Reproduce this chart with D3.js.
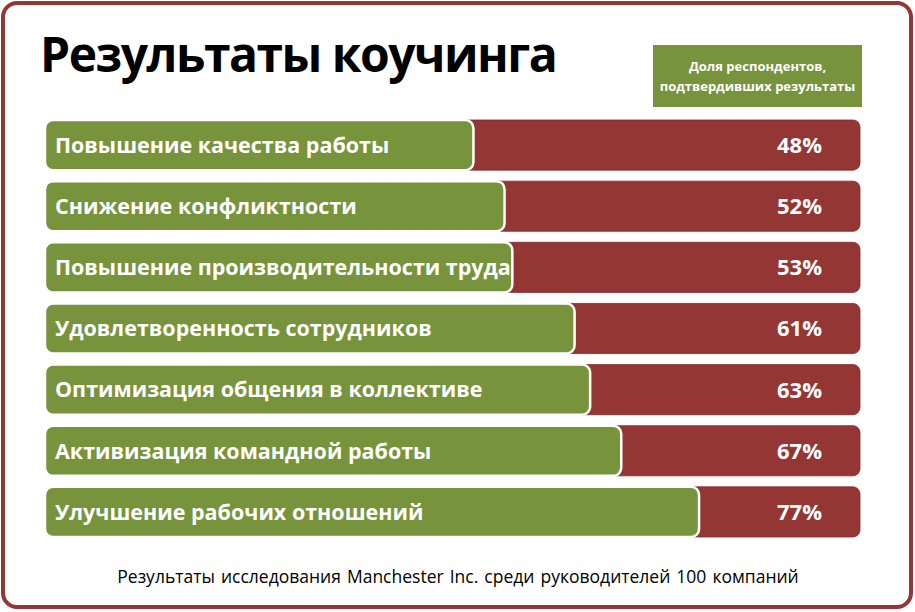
<!DOCTYPE html>
<html>
<head>
<meta charset="utf-8">
<script src="https://cdn.jsdelivr.net/npm/d3@7"></script>
<style>
  body { margin: 0; background: #fff; }
  text { font-family: "Open Sans", "DejaVu Sans", sans-serif; }
</style>
</head>
<body>
<div id="app"></div>
<script>
// data
let categories = [
  'Повышение качества работы',
  'Снижение конфликтности',
  'Повышение производительности труда',
  'Удовлетворенность сотрудников',
  'Оптимизация общения в коллективе',
  'Активизация командной работы',
  'Улучшение рабочих отношений'
];
let values = [48, 52, 53, 61, 63, 67, 77];
let title = 'Результаты коучинга';
let legendLines = ['Доля респондентов,', 'подтвердивших результаты'];
let footnote = 'Результаты исследования Manchester Inc. среди руководителей 100 компаний';

let W = 915, H = 612;
let green = '#77933c', red = '#943634';

let svg = d3.select('#app').append('svg')
  .attr('width', W)
  .attr('height', H);

// outer frame
svg.append('rect')
  .attr('x', 3).attr('y', 3)
  .attr('width', W - 7).attr('height', H - 8)
  .attr('rx', 14)
  .attr('fill', '#fff')
  .attr('stroke', red)
  .attr('stroke-width', 4);

let trackLeft = 45, trackRight = 860;

let yScale = d3.scaleBand()
  .domain(categories)
  .range([120, 537])
  .paddingInner(0.18);

// green bar length as drawn in the original infographic
let xScale = d3.scaleLinear()
  .domain([0, 100])
  .range([100, 878]);

let rows = svg.append('g').selectAll('g')
  .data(categories)
  .join('g')
  .attr('transform', d => 'translate(0,' + yScale(d) + ')');

// red track
rows.append('rect')
  .attr('x', trackLeft + 20)
  .attr('y', 0)
  .attr('width', trackRight - trackLeft - 20)
  .attr('height', yScale.bandwidth())
  .attr('rx', 7)
  .attr('fill', red)
  .attr('stroke', '#7f2b29')
  .attr('stroke-width', 0.8);

// green bar
rows.append('rect')
  .attr('x', trackLeft)
  .attr('y', 0)
  .attr('width', (d, i) => xScale(values[i]) - trackLeft)
  .attr('height', yScale.bandwidth())
  .attr('rx', 8)
  .attr('fill', green)
  .attr('stroke', '#fff')
  .attr('stroke-width', 2.5);

rows.append('text')
  .attr('x', 55)
  .attr('y', yScale.bandwidth() / 2)
  .attr('dy', '0.36em')
  .attr('fill', '#fff')
  .attr('font-weight', 'bold')
  .attr('font-size', 21.5)
  .text(d => d);

rows.append('text')
  .attr('x', 822)
  .attr('y', yScale.bandwidth() / 2)
  .attr('dy', '0.36em')
  .attr('text-anchor', 'end')
  .attr('fill', '#fff')
  .attr('font-weight', 'bold')
  .attr('font-size', 22)
  .text((d, i) => values[i] + '%');

// title
svg.append('text')
  .attr('x', 40)
  .attr('y', 72)
  .attr('font-size', 48)
  .attr('font-weight', 'bold')
  .attr('letter-spacing', -1.5)
  .attr('fill', '#000')
  .text(title);

// legend box
svg.append('rect')
  .attr('x', 653).attr('y', 45)
  .attr('width', 209).attr('height', 62)
  .attr('fill', green);

svg.append('text')
  .attr('x', 757.5)
  .attr('y', 71)
  .attr('text-anchor', 'middle')
  .attr('fill', '#fff')
  .attr('font-weight', 'bold')
  .attr('font-size', 13)
  .selectAll('tspan')
  .data(legendLines)
  .join('tspan')
  .attr('x', 757.5)
  .attr('dy', (d, i) => i ? 20 : 0)
  .text(d => d);

// footnote
svg.append('text')
  .attr('x', 458)
  .attr('y', 583)
  .attr('text-anchor', 'middle')
  .attr('font-size', 17.5)
  .attr('word-spacing', 1.5)
  .attr('fill', '#000')
  .text(footnote);
</script>
</body>
</html>
